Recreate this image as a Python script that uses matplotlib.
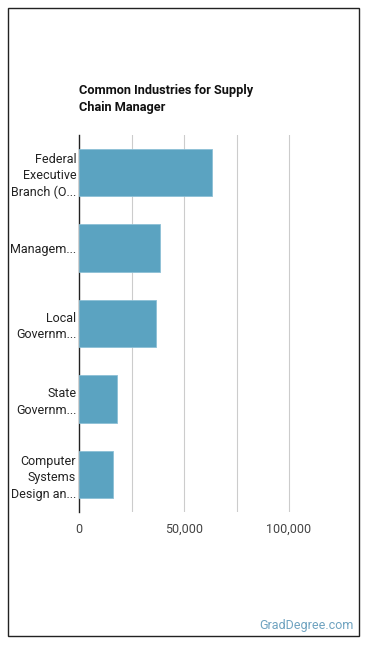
import matplotlib
matplotlib.use("Agg")
import matplotlib.pyplot as plt
from matplotlib.patches import Rectangle
from matplotlib.ticker import FuncFormatter

plt.rcParams['font.family'] = ['Roboto', 'DejaVu Sans']

categories = ["Federal\nExecutive\nBranch (O...", "Managem...", "Local\nGovernm...",
              "State\nGovernm...", "Computer\nSystems\nDesign an..."]
values = [63300, 38600, 36700, 18100, 16200]
xticks = [0, 50000, 100000]
grid_x = [25000, 50000, 75000, 100000]

W, H = 370, 648
fig = plt.figure(figsize=(W/100, H/100), dpi=100)
fig.patches.append(Rectangle((8/W, 12/H), 351/W, 628/H, transform=fig.transFigure,
                             fill=False, edgecolor='#222222', linewidth=1.0))

ax = fig.add_axes([79/W, 1-512/H, 252/W, 377/H])
y = list(range(len(categories)))
ax.barh(y, values, height=0.63, color='#5ba3c1', edgecolor='#8cc0d6', linewidth=0.6, zorder=3)
ax.set_ylim(len(categories)-0.5, -0.5)
ax.set_xlim(0, 120000)
for g in grid_x:
    ax.axvline(g, color='#cccccc', linewidth=0.8, zorder=1)
ax.set_xticks(xticks)
ax.xaxis.set_major_formatter(FuncFormatter(lambda v, p: f"{int(v):,}"))
ax.set_yticks(y)
ax.set_yticklabels(categories, fontsize=9, color='#222222', linespacing=1.35)
ax.tick_params(axis='y', length=0, pad=2)
ax.tick_params(axis='x', length=0, pad=8, labelsize=9, labelcolor='#444444')
for s in ['top', 'right', 'bottom']:
    ax.spines[s].set_visible(False)
ax.spines['left'].set_color('#222222')
ax.spines['left'].set_linewidth(1.0)

fig.text(79/W, 1-99/H, "Common Industries for Supply\nChain Manager", fontsize=9.2,
         fontweight='bold', color='#111111', va='center', ha='left', linespacing=1.35)
fig.text(354/W, 1-626/H, "GradDegree.com", fontsize=9, color='#6fa3c0', ha='right', va='center')

fig.savefig("out.png", dpi=100)
